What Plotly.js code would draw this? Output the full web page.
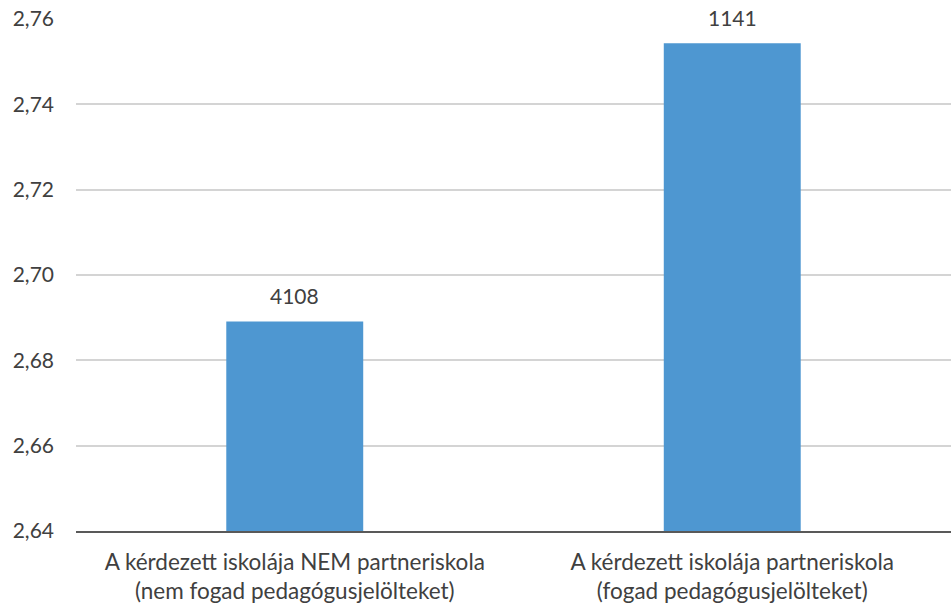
<!DOCTYPE html>
<html>
<head>
<meta charset="utf-8">
<script src="https://cdn.plot.ly/plotly-3.0.1.min.js"></script>
<style>html,body{margin:0;padding:0;background:#fff;}#chart{width:951px;height:606px;}</style>
</head>
<body>
<div id="chart"></div>
<script>
var categories = [
  "A kérdezett iskolája NEM partneriskola<br>(nem fogad pedagógusjelölteket)",
  "A kérdezett iskolája partneriskola<br>(fogad pedagógusjelölteket)"
];
var values = [2.6891, 2.7543];
var counts = ["4108", "1141"];
var yTicks = [2.64, 2.66, 2.68, 2.70, 2.72, 2.74, 2.76];

var fontFam = "Lato, 'Open Sans', sans-serif";
var textColor = "#404040";

var trace = {
  type: "bar",
  x: categories,
  y: values,
  marker: {color: "#4e97d1"},
  hoverinfo: "none"
};

var annotations = categories.map(function (c, i) {
  return {
    x: c, y: values[i], xref: "x", yref: "y",
    text: counts[i], showarrow: false,
    yanchor: "middle", yshift: 26,
    font: {family: fontFam, size: 21, color: textColor}
  };
});

var layout = {
  width: 951, height: 606,
  margin: {l: 76, r: 0, t: 19, b: 75},
  paper_bgcolor: "#fff", plot_bgcolor: "#fff",
  showlegend: false,
  bargap: 0.687,
  font: {family: fontFam, size: 21, color: textColor},
  xaxis: {
    type: "category",
    showgrid: false,
    showline: true, linecolor: "#595959", linewidth: 2,
    ticks: "", ticklabelstandoff: 10,
    tickfont: {family: fontFam, size: 22.5, color: textColor},
    fixedrange: true
  },
  yaxis: {
    range: [2.64, 2.76],
    tickvals: yTicks,
    tickformat: ".2f",
    showgrid: true, gridcolor: "#d4d4d4", gridwidth: 2,
    zeroline: false, showline: false,
    ticks: "", ticklabelstandoff: 21,
    tickfont: {family: fontFam, size: 21, color: textColor},
    fixedrange: true
  },
  separators: ",.",
  annotations: annotations
};

Plotly.newPlot("chart", [trace], layout, {displayModeBar: false, staticPlot: true});
</script>
</body>
</html>
